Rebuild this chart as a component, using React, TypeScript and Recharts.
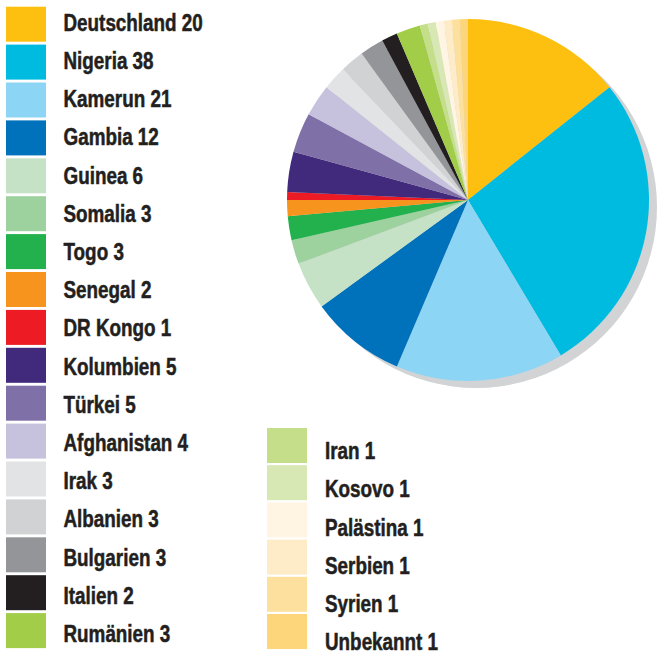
import { Cell, Legend, Pie, PieChart } from 'recharts';

const countries = [
  'Deutschland', 'Nigeria', 'Kamerun', 'Gambia', 'Guinea', 'Somalia', 'Togo', 'Senegal',
  'DR Kongo', 'Kolumbien', 'Türkei', 'Afghanistan', 'Irak', 'Albanien', 'Bulgarien',
  'Italien', 'Rumänien', 'Iran', 'Kosovo', 'Palästina', 'Serbien', 'Syrien', 'Unbekannt',
];
const counts = [20, 38, 21, 12, 6, 3, 3, 2, 1, 5, 5, 4, 3, 3, 3, 2, 3, 1, 1, 1, 1, 1, 1];
const colors = [
  '#fdc010', '#00bbe0', '#8dd5f5', '#0072bb', '#c6e2c6', '#9dd19e', '#22b14c', '#f7941e',
  '#ed1c24', '#41297b', '#8070a8', '#c6c1dc', '#e2e3e5', '#d0d2d3', '#939598', '#231f20',
  '#a1cd48', '#c4de8a', '#d8e8b5', '#fff5e2', '#feecc8', '#fee09e', '#fdd57a',
];

const data = countries.map((name, i) => ({ name, value: counts[i], color: colors[i] }));
const shadow = [{ name: 'shadow', value: 1 }];

// no narrow font installed, so squeeze Liberation Sans Bold like Arial Narrow
const FONT = '"Liberation Sans", Arial, sans-serif';

function Label({ x, y, text }: { x: number; y: number; text: string }) {
  return (
    <text
      transform={`translate(${x} ${y}) scale(0.82 1)`}
      fontFamily={FONT}
      fontWeight="bold"
      fontSize={23}
      fill="#231f20"
      stroke="#231f20"
      strokeWidth={0.5}
    >
      {text}
    </text>
  );
}

function LegendBlock() {
  const first = data.slice(0, 17);
  const second = data.slice(17);
  return (
    <svg width={658} height={654} style={{ display: 'block' }}>
      {first.map((d, i) => (
        <g key={d.name}>
          <rect x={6} y={6.7 + i * 37.9} width={40} height={35} fill={d.color} />
          <Label x={63.5} y={30.7 + i * 38.2} text={`${d.name} ${d.value}`} />
        </g>
      ))}
      {second.map((d, i) => (
        <g key={d.name}>
          <rect x={267} y={428 + i * 37.2} width={40} height={35} fill={d.color} />
          <Label x={325} y={459.3 + i * 38.1} text={`${d.name} ${d.value}`} />
        </g>
      ))}
    </svg>
  );
}

export default function App() {
  return (
    <div style={{ position: 'absolute', left: 0, top: 0, width: 658, height: 654, background: '#fff' }}>
      <PieChart width={658} height={654} margin={{ top: 0, right: 0, bottom: 0, left: 0 }}>
        <Pie
          data={shadow}
          dataKey="value"
          cx={476}
          cy={207}
          outerRadius={181}
          stroke="none"
          fill="#d1d3d4"
          isAnimationActive={false}
        />
        <Pie
          data={data}
          dataKey="value"
          cx={468}
          cy={200}
          outerRadius={181}
          startAngle={90}
          endAngle={-270}
          stroke="none"
          isAnimationActive={false}
        >
          {data.map((d) => (
            <Cell key={d.name} fill={d.color} />
          ))}
        </Pie>
        <Legend
          content={() => <LegendBlock />}
          wrapperStyle={{ position: 'absolute', left: 0, top: 0, width: 658, height: 654, pointerEvents: 'none' }}
        />
      </PieChart>
    </div>
  );
}
